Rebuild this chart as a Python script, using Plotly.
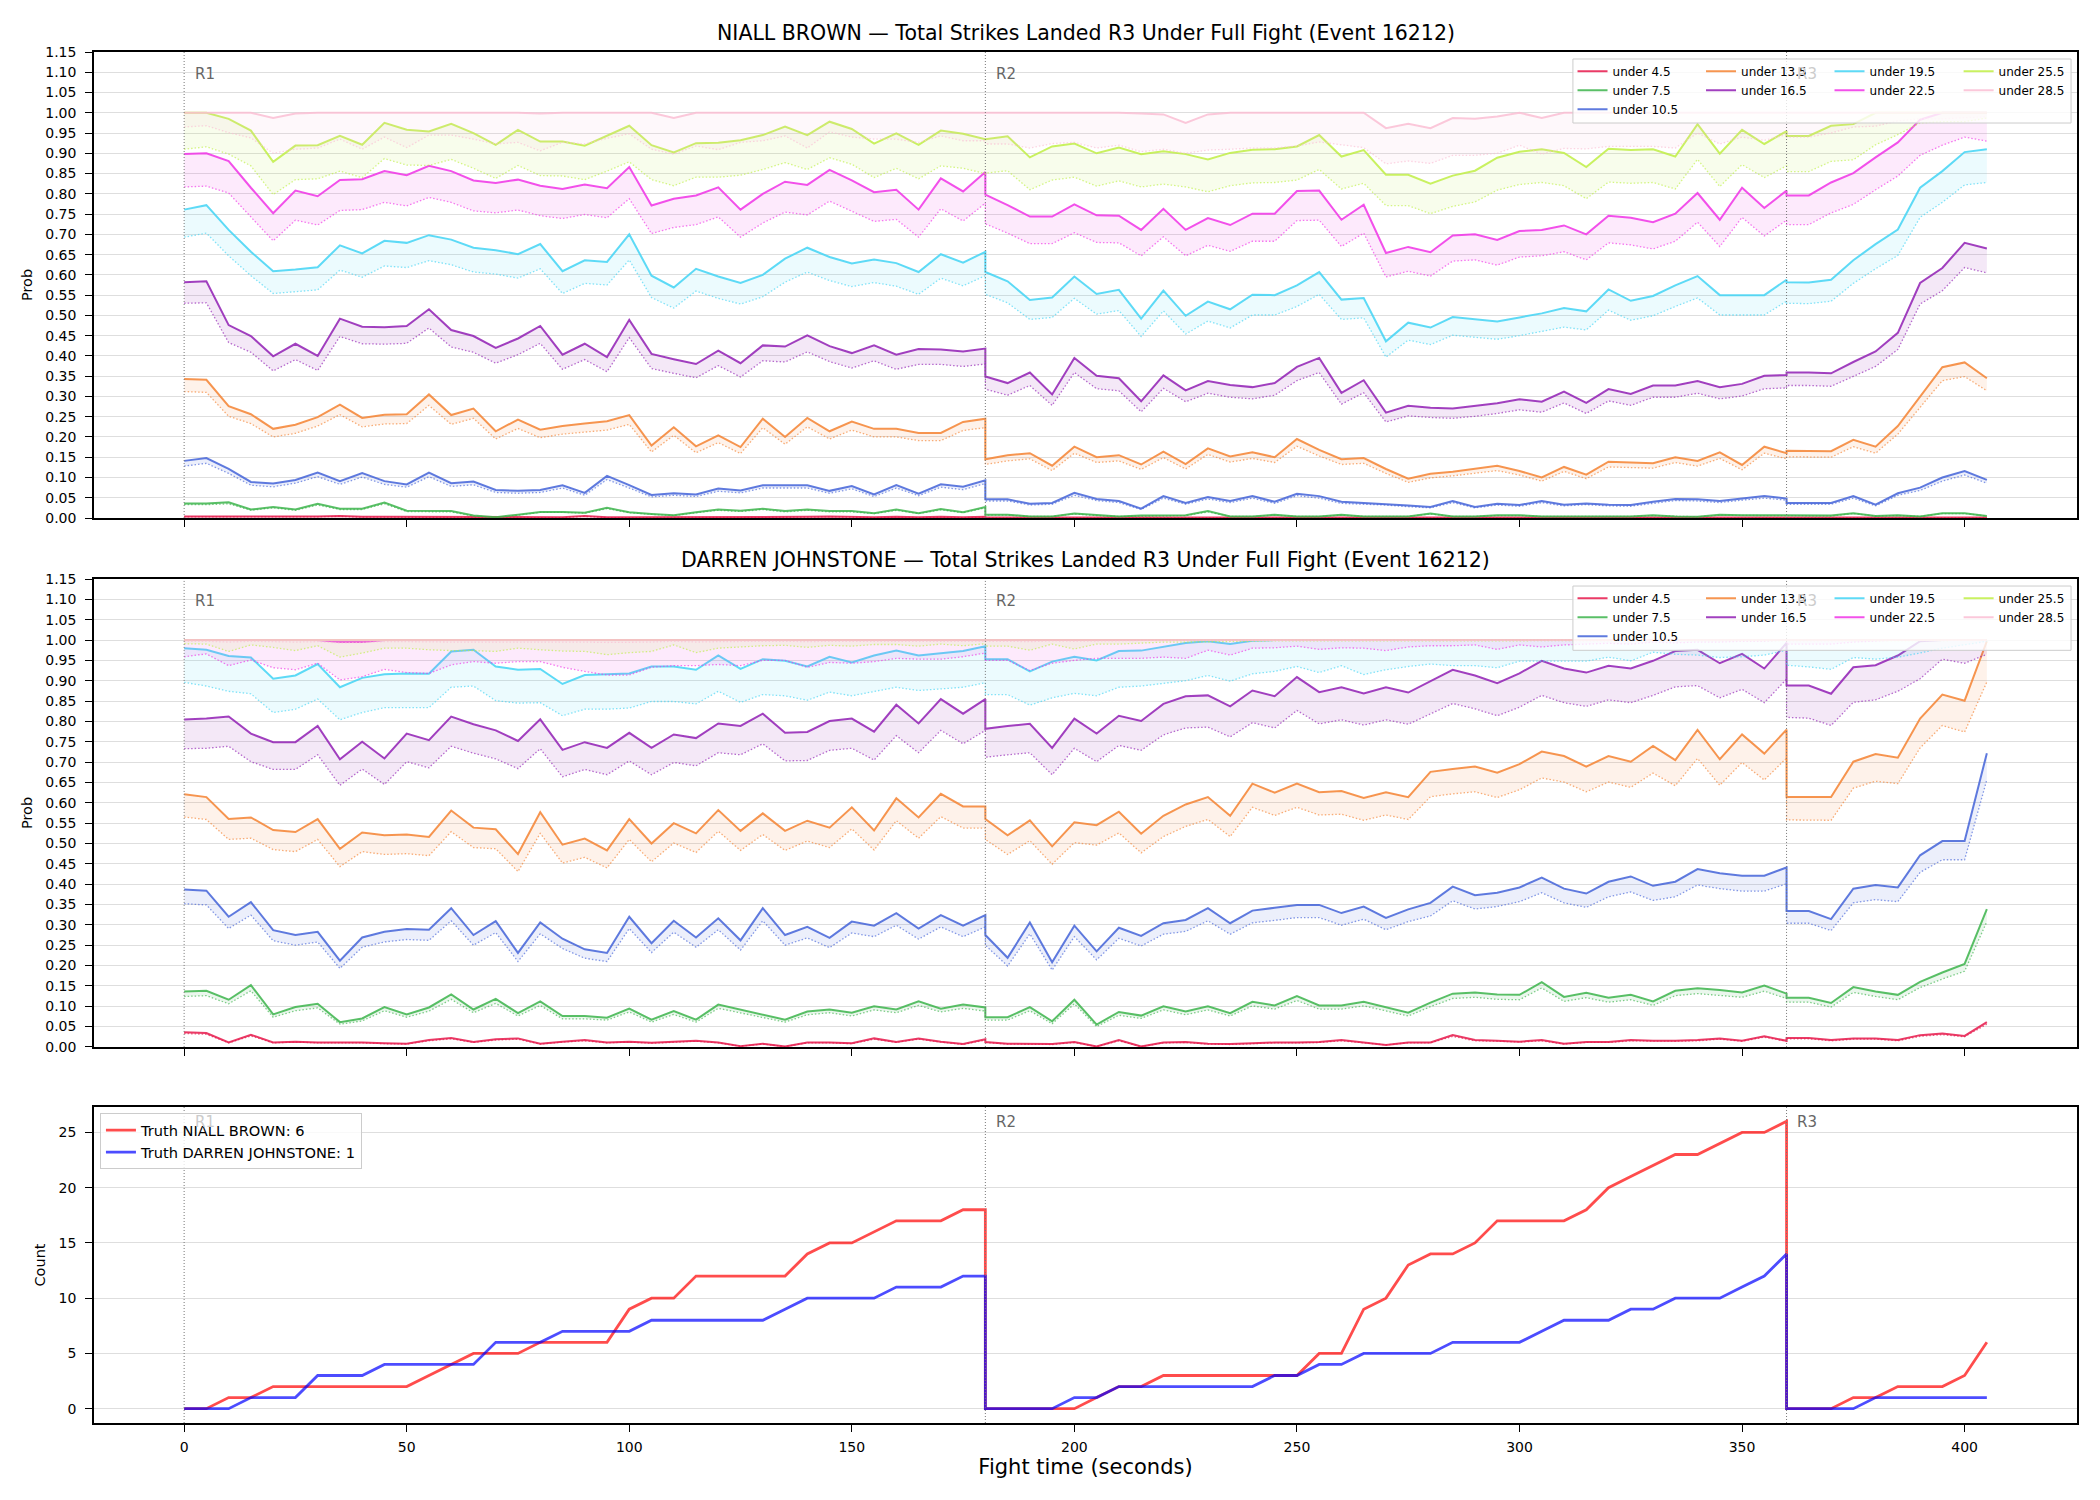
import sys
import plotly.graph_objects as go
from plotly.subplots import make_subplots

# ---------------- axes / categories ----------------
T = list(range(0, 181, 5)) + list(range(180, 361, 5)) + list(range(360, 406, 5))
ROUND_STARTS = [0, 180, 360]
ROUND_LABELS = ["R1", "R2", "R3"]
THRESHOLDS = ["under 4.5", "under 7.5", "under 10.5", "under 13.5", "under 16.5",
              "under 19.5", "under 22.5", "under 25.5", "under 28.5"]
COLORS = ["#e6194b", "#3cb44b", "#4363d8", "#f58231", "#911eb4",
          "#42d4f4", "#f032e6", "#bfef45", "#fabed4"]
PROB_TICKS = [0.00, 0.05, 0.10, 0.15, 0.20, 0.25, 0.30, 0.35, 0.40, 0.45, 0.50, 0.55,
              0.60, 0.65, 0.70, 0.75, 0.80, 0.85, 0.90, 0.95, 1.00, 1.05, 1.10, 1.15]
COUNT_TICKS = [0, 5, 10, 15, 20, 25]
X_TICKS = [0, 50, 100, 150, 200, 250, 300, 350, 400]
TITLE_NB = "NIALL BROWN — Total Strikes Landed R3 Under Full Fight (Event 16212)"
TITLE_DJ = "DARREN JOHNSTONE — Total Strikes Landed R3 Under Full Fight (Event 16212)"

# ---------------- NIALL BROWN (solid = hi, dotted = lo) ----------------
nb_u4_5 = [0.004,0.004,0.004,0.003,0.003,0.003,0.004,0.005,0.003,0.003,
           0.003,0.002,0.002,0.002,0.002,0.002,0.003,0.002,0.005,0.002,
           0.002,0.002,0.002,0.003,0.002,0.002,0.002,0.003,0.003,0.004,
           0.003,0.002,0.003,0.002,0.003,0.002,0.003] + \
          [0.001,0.001,0.001,0.001,0.002,0.001,0.001,0.001,0.001,0.001,
           0.002,0.001,0.001,0.001,0.001,0.001,0.002,0.001,0.001,0.001,
           0.001,0.001,0.001,0.001,0.001,0.001,0.001,0.001,0.001,0.001,
           0.001,0.001,0.001,0.001,0.001,0.001,0.001] + \
          [0.001,0.001,0.001,0.002,0.001,0.001,0.001,0.001,0.002,0.001]
nb_u4_5_lo = [0.003,0.003,0.003,0.002,0.002,0.002,0.003,0.004,0.002,0.002,
              0.002,0.001,0.001,0.001,0.001,0.001,0.002,0.001,0.004,0.001,
              0.001,0.001,0.001,0.002,0.001,0.001,0.001,0.002,0.002,0.003,
              0.002,0.001,0.002,0.001,0.002,0.001,0.002] + \
             [0.001,0.001,0.001,0.001,0.001,0.001,0.001,0.001,0.001,0.001,
              0.001,0.001,0.001,0.001,0.001,0.001,0.001,0.001,0.001,0.001,
              0.001,0.001,0.001,0.001,0.001,0.001,0.001,0.001,0.001,0.001,
              0.001,0.001,0.001,0.001,0.001,0.001,0.001] + \
             [0.001,0.001,0.001,0.001,0.001,0.001,0.001,0.001,0.001,0.001]

nb_u7_5 = [0.036,0.036,0.039,0.021,0.027,0.021,0.035,0.023,0.023,0.038,
           0.018,0.018,0.017,0.006,0.002,0.008,0.015,0.015,0.013,0.025,
           0.014,0.010,0.007,0.014,0.021,0.018,0.023,0.017,0.021,0.017,
           0.017,0.012,0.021,0.012,0.022,0.014,0.027] + \
          [0.008,0.008,0.004,0.004,0.011,0.007,0.004,0.006,0.007,0.007,
           0.017,0.004,0.004,0.008,0.004,0.004,0.008,0.004,0.004,0.004,
           0.011,0.004,0.004,0.007,0.007,0.004,0.004,0.004,0.004,0.004,
           0.007,0.004,0.003,0.008,0.007,0.007,0.007] + \
          [0.007,0.007,0.006,0.012,0.005,0.007,0.004,0.012,0.012,0.005]
nb_u7_5_lo = [0.033,0.033,0.035,0.019,0.025,0.019,0.032,0.021,0.021,0.035,
              0.016,0.016,0.015,0.005,0.002,0.007,0.014,0.014,0.012,0.023,
              0.013,0.009,0.006,0.013,0.019,0.016,0.021,0.015,0.019,0.015,
              0.015,0.011,0.019,0.011,0.020,0.013,0.025] + \
             [0.007,0.007,0.004,0.004,0.010,0.006,0.004,0.005,0.006,0.006,
              0.015,0.004,0.004,0.007,0.004,0.004,0.007,0.004,0.004,0.004,
              0.010,0.004,0.004,0.006,0.006,0.004,0.004,0.004,0.004,0.004,
              0.006,0.004,0.003,0.007,0.006,0.006,0.006] + \
             [0.006,0.006,0.005,0.011,0.005,0.006,0.004,0.011,0.011,0.005]

nb_u10_5 = [0.141,0.148,0.121,0.089,0.085,0.094,0.112,0.091,0.111,0.091,
            0.083,0.112,0.086,0.090,0.069,0.067,0.069,0.081,0.062,0.104,
            0.081,0.057,0.061,0.058,0.073,0.068,0.081,0.081,0.081,0.067,
            0.079,0.058,0.081,0.060,0.083,0.077,0.093] + \
           [0.046,0.046,0.035,0.037,0.062,0.047,0.042,0.023,0.054,0.037,
            0.052,0.042,0.054,0.040,0.060,0.054,0.040,0.037,0.035,0.031,
            0.027,0.042,0.027,0.035,0.032,0.042,0.033,0.036,0.033,0.032,
            0.040,0.047,0.046,0.042,0.048,0.054,0.048] + \
           [0.037,0.037,0.037,0.054,0.033,0.061,0.075,0.100,0.116,0.094]
nb_u10_5_lo = [0.128,0.135,0.110,0.081,0.077,0.086,0.102,0.083,0.101,0.083,
               0.076,0.102,0.078,0.082,0.063,0.061,0.063,0.074,0.056,0.095,
               0.074,0.052,0.056,0.053,0.066,0.062,0.074,0.074,0.074,0.061,
               0.072,0.053,0.074,0.055,0.076,0.070,0.085] + \
              [0.042,0.042,0.032,0.034,0.056,0.043,0.038,0.021,0.049,0.034,
               0.047,0.038,0.049,0.036,0.055,0.049,0.036,0.034,0.032,0.028,
               0.025,0.038,0.025,0.032,0.029,0.038,0.030,0.033,0.030,0.029,
               0.036,0.043,0.042,0.038,0.044,0.049,0.044] + \
              [0.034,0.034,0.034,0.049,0.030,0.056,0.068,0.091,0.106,0.086]

nb_u13_5 = [0.343,0.341,0.276,0.256,0.220,0.230,0.249,0.280,0.247,0.255,
            0.256,0.305,0.254,0.270,0.214,0.243,0.218,0.227,0.233,0.239,
            0.254,0.179,0.224,0.177,0.204,0.175,0.245,0.200,0.247,0.214,
            0.238,0.220,0.220,0.210,0.210,0.237,0.245] + \
           [0.145,0.155,0.160,0.129,0.176,0.150,0.155,0.132,0.164,0.133,
            0.172,0.152,0.162,0.150,0.195,0.168,0.145,0.148,0.121,0.097,
            0.109,0.114,0.121,0.129,0.116,0.100,0.126,0.107,0.139,0.137,
            0.135,0.150,0.141,0.162,0.131,0.176,0.160] + \
           [0.166,0.166,0.165,0.193,0.176,0.227,0.300,0.372,0.384,0.345]
nb_u13_5_lo = [0.312,0.310,0.251,0.233,0.200,0.209,0.227,0.255,0.225,0.232,
               0.233,0.278,0.231,0.246,0.195,0.221,0.198,0.207,0.212,0.217,
               0.231,0.163,0.204,0.161,0.186,0.159,0.223,0.182,0.225,0.195,
               0.217,0.200,0.200,0.191,0.191,0.216,0.223] + \
              [0.132,0.141,0.146,0.117,0.160,0.137,0.141,0.120,0.149,0.121,
               0.157,0.138,0.147,0.137,0.177,0.153,0.132,0.135,0.110,0.088,
               0.099,0.104,0.110,0.117,0.106,0.091,0.115,0.097,0.126,0.125,
               0.123,0.137,0.128,0.147,0.119,0.160,0.146] + \
              [0.151,0.151,0.150,0.176,0.160,0.207,0.273,0.339,0.349,0.314]

nb_u16_5 = [0.582,0.584,0.476,0.449,0.399,0.430,0.400,0.492,0.472,0.471,
            0.474,0.515,0.464,0.449,0.420,0.443,0.474,0.403,0.430,0.397,
            0.489,0.405,0.392,0.380,0.413,0.382,0.426,0.423,0.451,0.424,
            0.407,0.426,0.403,0.417,0.416,0.411,0.418] + \
           [0.349,0.333,0.359,0.305,0.395,0.351,0.345,0.288,0.352,0.315,
            0.338,0.328,0.323,0.333,0.373,0.395,0.309,0.340,0.260,0.277,
            0.272,0.270,0.276,0.283,0.293,0.287,0.312,0.284,0.318,0.306,
            0.327,0.327,0.338,0.323,0.331,0.351,0.353] + \
           [0.359,0.359,0.357,0.385,0.411,0.457,0.580,0.617,0.679,0.665]
nb_u16_5_lo = [0.530,0.531,0.433,0.409,0.363,0.391,0.364,0.448,0.430,0.429,
               0.431,0.469,0.422,0.409,0.382,0.403,0.431,0.367,0.391,0.361,
               0.445,0.369,0.357,0.346,0.376,0.348,0.388,0.385,0.410,0.386,
               0.370,0.388,0.367,0.379,0.379,0.374,0.380] + \
              [0.318,0.303,0.327,0.278,0.359,0.319,0.314,0.262,0.320,0.287,
               0.308,0.298,0.294,0.303,0.339,0.359,0.281,0.309,0.237,0.252,
               0.248,0.246,0.251,0.258,0.267,0.261,0.284,0.258,0.289,0.278,
               0.298,0.298,0.308,0.294,0.301,0.319,0.321] + \
              [0.327,0.327,0.325,0.350,0.374,0.416,0.528,0.561,0.618,0.605]

nb_u19_5 = [0.761,0.772,0.711,0.657,0.609,0.613,0.619,0.673,0.653,0.684,
            0.679,0.698,0.687,0.667,0.661,0.651,0.676,0.609,0.636,0.632,
            0.700,0.598,0.569,0.615,0.596,0.580,0.600,0.640,0.667,0.644,
            0.628,0.638,0.629,0.607,0.651,0.630,0.657] + \
           [0.607,0.584,0.538,0.544,0.596,0.553,0.563,0.492,0.561,0.499,
            0.534,0.515,0.551,0.550,0.574,0.607,0.539,0.543,0.436,0.482,
            0.470,0.496,0.490,0.485,0.495,0.505,0.518,0.510,0.564,0.536,
            0.548,0.574,0.597,0.550,0.550,0.550,0.588] + \
           [0.582,0.581,0.588,0.636,0.676,0.712,0.815,0.856,0.903,0.910]
nb_u19_5_lo = [0.693,0.703,0.647,0.598,0.554,0.558,0.563,0.612,0.594,0.622,
               0.618,0.635,0.625,0.607,0.602,0.592,0.615,0.554,0.579,0.575,
               0.637,0.544,0.518,0.560,0.542,0.528,0.546,0.582,0.607,0.586,
               0.571,0.581,0.572,0.552,0.592,0.573,0.598] + \
              [0.552,0.531,0.490,0.495,0.542,0.503,0.512,0.448,0.511,0.454,
               0.486,0.469,0.501,0.501,0.522,0.552,0.490,0.494,0.397,0.439,
               0.428,0.451,0.446,0.441,0.450,0.460,0.471,0.464,0.513,0.488,
               0.499,0.522,0.543,0.501,0.501,0.501,0.535] + \
              [0.530,0.529,0.535,0.579,0.615,0.648,0.742,0.779,0.822,0.828]

nb_u22_5 = [0.898,0.900,0.881,0.815,0.752,0.808,0.794,0.834,0.836,0.856,
            0.846,0.869,0.856,0.833,0.827,0.835,0.820,0.812,0.823,0.814,
            0.866,0.771,0.788,0.796,0.816,0.761,0.800,0.830,0.822,0.859,
            0.833,0.804,0.810,0.761,0.838,0.806,0.854] + \
           [0.798,0.772,0.744,0.744,0.774,0.747,0.746,0.711,0.763,0.711,
            0.740,0.723,0.751,0.751,0.807,0.808,0.736,0.773,0.654,0.669,
            0.656,0.697,0.700,0.686,0.708,0.711,0.722,0.700,0.746,0.741,
            0.730,0.751,0.802,0.736,0.815,0.765,0.808] + \
           [0.796,0.796,0.828,0.851,0.890,0.927,0.983,1.000,1.000,1.000]
nb_u22_5_lo = [0.817,0.819,0.802,0.742,0.684,0.735,0.723,0.759,0.761,0.779,
               0.770,0.791,0.779,0.758,0.753,0.760,0.746,0.739,0.749,0.741,
               0.788,0.702,0.717,0.724,0.743,0.693,0.728,0.755,0.748,0.782,
               0.758,0.732,0.737,0.693,0.763,0.733,0.777] + \
              [0.726,0.703,0.677,0.677,0.704,0.680,0.679,0.647,0.694,0.647,
               0.673,0.658,0.683,0.683,0.734,0.735,0.670,0.703,0.595,0.609,
               0.597,0.634,0.637,0.624,0.644,0.647,0.657,0.637,0.679,0.674,
               0.664,0.683,0.730,0.670,0.742,0.696,0.735] + \
              [0.724,0.724,0.753,0.774,0.810,0.844,0.895,0.920,0.940,0.930]

nb_u25_5 = [1.000,1.000,0.985,0.956,0.879,0.919,0.920,0.943,0.921,0.975,
            0.958,0.954,0.973,0.950,0.921,0.958,0.929,0.929,0.919,0.943,
            0.968,0.920,0.902,0.925,0.926,0.932,0.945,0.966,0.945,0.978,
            0.960,0.924,0.949,0.921,0.956,0.948,0.935] + \
           [0.935,0.942,0.890,0.917,0.924,0.900,0.914,0.898,0.905,0.898,
            0.885,0.901,0.909,0.910,0.917,0.945,0.892,0.908,0.847,0.847,
            0.825,0.845,0.857,0.889,0.904,0.910,0.901,0.866,0.911,0.908,
            0.910,0.892,0.972,0.899,0.958,0.923,0.955] + \
           [0.943,0.943,0.968,0.972,1.000,1.000,1.000,1.000,1.000,1.000]
nb_u25_5_lo = [0.910,0.916,0.898,0.869,0.798,0.835,0.837,0.856,0.840,0.887,
               0.871,0.870,0.885,0.863,0.838,0.870,0.845,0.844,0.835,0.856,
               0.879,0.835,0.820,0.841,0.841,0.846,0.860,0.877,0.860,0.889,
               0.873,0.840,0.863,0.837,0.869,0.863,0.850] + \
              [0.851,0.857,0.810,0.834,0.841,0.819,0.832,0.817,0.824,0.817,
               0.805,0.820,0.827,0.828,0.834,0.860,0.812,0.826,0.771,0.771,
               0.751,0.769,0.780,0.809,0.823,0.828,0.820,0.788,0.829,0.826,
               0.828,0.812,0.885,0.818,0.872,0.840,0.869] + \
              [0.855,0.855,0.880,0.884,0.921,0.946,0.975,0.978,0.978,0.987]

nb_u28_5 = [1.000,1.000,1.000,1.000,0.987,0.998,1.000,1.000,1.000,1.000,
            1.000,1.000,1.000,1.000,1.000,1.000,0.998,1.000,1.000,1.000,
            1.000,1.000,0.987,1.000,1.000,1.000,1.000,1.000,1.000,1.000,
            1.000,1.000,1.000,1.000,1.000,1.000,1.000] + \
           [1.000,1.000,1.000,1.000,1.000,1.000,1.000,0.998,0.996,0.975,
            0.996,1.000,1.000,1.000,1.000,1.000,1.000,1.000,0.962,0.973,
            0.962,0.987,0.985,0.991,1.000,0.987,1.000,1.000,1.000,1.000,
            1.000,1.000,1.000,1.000,1.000,1.000,1.000] + \
           [1.000,1.000,1.000,1.000,1.000,1.000,1.000,1.000,1.000,1.000]
nb_u28_5_lo = [0.965,0.968,0.951,0.938,0.900,0.910,0.913,0.935,0.910,0.940,
               0.914,0.945,0.945,0.935,0.923,0.927,0.906,0.927,0.923,0.937,
               0.948,0.910,0.898,0.918,0.909,0.927,0.931,0.943,0.913,0.953,
               0.940,0.935,0.935,0.927,0.943,0.931,0.931] + \
              [0.923,0.923,0.913,0.924,0.927,0.913,0.920,0.904,0.910,0.900,
               0.908,0.910,0.913,0.913,0.918,0.928,0.921,0.914,0.874,0.881,
               0.875,0.895,0.895,0.900,0.920,0.898,0.912,0.911,0.917,0.917,
               0.917,0.913,0.950,0.923,0.940,0.932,0.946] + \
              [0.940,0.940,0.950,0.965,0.967,0.980,0.985,0.985,0.988,0.990]

# ---------------- DARREN JOHNSTONE ----------------
dj_u4_5 = [0.036,0.034,0.011,0.030,0.011,0.013,0.011,0.011,0.011,0.009,
           0.008,0.017,0.022,0.012,0.019,0.021,0.008,0.013,0.017,0.011,
           0.013,0.010,0.012,0.015,0.011,0.002,0.008,0.001,0.011,0.011,
           0.009,0.021,0.012,0.021,0.013,0.007,0.019] + \
          [0.012,0.008,0.008,0.007,0.012,0.001,0.017,0.001,0.011,0.012,
           0.008,0.007,0.009,0.011,0.011,0.012,0.017,0.011,0.005,0.011,
           0.011,0.029,0.017,0.015,0.013,0.017,0.008,0.012,0.012,0.017,
           0.015,0.015,0.017,0.021,0.015,0.026,0.015] + \
          [0.022,0.022,0.017,0.021,0.021,0.017,0.029,0.033,0.027,0.061]
dj_u4_5_lo = [0.033,0.031,0.010,0.027,0.010,0.012,0.010,0.010,0.010,0.008,
              0.007,0.015,0.020,0.011,0.017,0.019,0.007,0.012,0.015,0.010,
              0.012,0.009,0.011,0.014,0.010,0.002,0.007,0.001,0.010,0.010,
              0.008,0.019,0.011,0.019,0.012,0.006,0.017] + \
             [0.011,0.007,0.007,0.006,0.011,0.001,0.015,0.001,0.010,0.011,
              0.007,0.006,0.008,0.010,0.010,0.011,0.015,0.010,0.005,0.010,
              0.010,0.026,0.015,0.014,0.012,0.015,0.007,0.011,0.011,0.015,
              0.014,0.014,0.015,0.019,0.014,0.024,0.014] + \
             [0.020,0.020,0.015,0.019,0.019,0.015,0.026,0.030,0.025,0.056]

dj_u7_5 = [0.136,0.138,0.116,0.152,0.080,0.098,0.106,0.061,0.070,0.098,
           0.080,0.097,0.129,0.092,0.118,0.083,0.112,0.076,0.076,0.072,
           0.094,0.067,0.088,0.067,0.104,0.092,0.080,0.067,0.087,0.092,
           0.084,0.100,0.092,0.112,0.094,0.104,0.097] + \
          [0.073,0.073,0.098,0.063,0.116,0.055,0.086,0.077,0.100,0.087,
           0.100,0.083,0.111,0.102,0.125,0.102,0.102,0.111,0.098,0.084,
           0.109,0.131,0.134,0.129,0.128,0.159,0.123,0.133,0.121,0.128,
           0.112,0.138,0.144,0.140,0.134,0.151,0.131] + \
          [0.121,0.121,0.108,0.147,0.136,0.128,0.160,0.183,0.204,0.339]
dj_u7_5_lo = [0.124,0.126,0.106,0.138,0.073,0.089,0.096,0.056,0.064,0.089,
              0.073,0.088,0.117,0.084,0.107,0.076,0.102,0.069,0.069,0.066,
              0.086,0.061,0.080,0.061,0.095,0.084,0.073,0.061,0.079,0.084,
              0.076,0.091,0.084,0.102,0.086,0.095,0.088] + \
             [0.066,0.066,0.089,0.057,0.106,0.050,0.078,0.070,0.091,0.079,
              0.091,0.076,0.101,0.093,0.114,0.093,0.093,0.101,0.089,0.076,
              0.099,0.119,0.122,0.117,0.116,0.145,0.112,0.121,0.110,0.116,
              0.102,0.126,0.131,0.127,0.122,0.137,0.119] + \
             [0.110,0.110,0.098,0.134,0.124,0.116,0.146,0.167,0.186,0.308]

dj_u10_5 = [0.387,0.384,0.320,0.356,0.287,0.275,0.283,0.212,0.269,0.283,
            0.290,0.288,0.341,0.275,0.309,0.231,0.306,0.266,0.240,0.231,
            0.320,0.255,0.310,0.269,0.316,0.262,0.341,0.275,0.295,0.268,
            0.308,0.298,0.329,0.291,0.324,0.298,0.324] + \
           [0.275,0.219,0.306,0.208,0.298,0.235,0.293,0.273,0.304,0.312,
            0.341,0.304,0.335,0.342,0.349,0.349,0.329,0.345,0.317,0.338,
            0.354,0.394,0.373,0.379,0.392,0.416,0.389,0.377,0.406,0.419,
            0.396,0.406,0.437,0.427,0.421,0.421,0.441] + \
           [0.334,0.334,0.314,0.389,0.398,0.392,0.471,0.506,0.506,0.722]
dj_u10_5_lo = [0.352,0.349,0.291,0.324,0.261,0.250,0.258,0.193,0.245,0.258,
               0.264,0.262,0.310,0.250,0.281,0.210,0.278,0.242,0.218,0.210,
               0.291,0.232,0.282,0.245,0.288,0.238,0.310,0.250,0.268,0.244,
               0.280,0.271,0.299,0.265,0.295,0.271,0.295] + \
              [0.250,0.199,0.278,0.189,0.271,0.214,0.267,0.248,0.277,0.284,
               0.310,0.277,0.305,0.311,0.318,0.318,0.299,0.314,0.288,0.308,
               0.322,0.359,0.339,0.345,0.357,0.379,0.354,0.343,0.369,0.381,
               0.360,0.369,0.398,0.389,0.383,0.383,0.401] + \
              [0.304,0.304,0.286,0.354,0.362,0.357,0.429,0.460,0.460,0.657]

dj_u13_5 = [0.621,0.614,0.560,0.564,0.533,0.528,0.560,0.487,0.527,0.520,
            0.522,0.516,0.581,0.539,0.535,0.474,0.577,0.497,0.512,0.483,
            0.560,0.500,0.550,0.525,0.582,0.531,0.574,0.531,0.556,0.539,
            0.589,0.532,0.611,0.564,0.622,0.591,0.591] + \
           [0.560,0.520,0.557,0.493,0.552,0.545,0.578,0.524,0.568,0.596,
            0.614,0.568,0.647,0.625,0.647,0.626,0.629,0.612,0.626,0.614,
            0.676,0.683,0.689,0.674,0.695,0.726,0.715,0.689,0.715,0.701,
            0.740,0.705,0.779,0.707,0.768,0.721,0.780] + \
           [0.614,0.614,0.614,0.701,0.720,0.711,0.807,0.866,0.851,0.997]
dj_u13_5_lo = [0.565,0.559,0.510,0.513,0.485,0.480,0.510,0.443,0.480,0.473,
               0.475,0.470,0.529,0.490,0.487,0.431,0.525,0.452,0.466,0.440,
               0.510,0.455,0.501,0.478,0.530,0.483,0.522,0.483,0.506,0.490,
               0.536,0.484,0.556,0.513,0.566,0.538,0.538] + \
              [0.510,0.473,0.507,0.449,0.502,0.496,0.526,0.477,0.517,0.542,
               0.559,0.517,0.589,0.569,0.589,0.570,0.572,0.557,0.570,0.559,
               0.615,0.622,0.627,0.613,0.632,0.661,0.651,0.627,0.651,0.638,
               0.673,0.642,0.709,0.643,0.699,0.656,0.710] + \
              [0.558,0.557,0.557,0.636,0.653,0.647,0.735,0.790,0.774,0.897]

dj_u16_5 = [0.805,0.807,0.812,0.770,0.749,0.749,0.789,0.707,0.750,0.709,
            0.770,0.754,0.812,0.793,0.778,0.752,0.805,0.730,0.749,0.735,
            0.772,0.735,0.768,0.759,0.795,0.789,0.819,0.772,0.774,0.801,
            0.807,0.775,0.841,0.795,0.855,0.819,0.855] + \
           [0.782,0.789,0.794,0.735,0.807,0.770,0.814,0.801,0.843,0.862,
            0.864,0.837,0.876,0.862,0.909,0.872,0.884,0.869,0.884,0.871,
            0.899,0.927,0.913,0.894,0.918,0.949,0.930,0.920,0.937,0.930,
            0.949,0.973,0.976,0.943,0.966,0.930,0.993] + \
           [0.888,0.888,0.868,0.933,0.938,0.962,0.997,1.000,1.000,1.000]
dj_u16_5_lo = [0.733,0.734,0.739,0.701,0.682,0.682,0.718,0.643,0.683,0.645,
               0.701,0.686,0.739,0.722,0.708,0.684,0.733,0.664,0.682,0.669,
               0.703,0.669,0.699,0.691,0.723,0.718,0.745,0.703,0.704,0.729,
               0.734,0.705,0.765,0.723,0.778,0.745,0.778] + \
              [0.712,0.718,0.723,0.669,0.734,0.701,0.741,0.729,0.767,0.784,
               0.786,0.762,0.797,0.784,0.827,0.794,0.804,0.791,0.804,0.793,
               0.818,0.844,0.831,0.814,0.835,0.864,0.846,0.837,0.853,0.846,
               0.864,0.885,0.888,0.858,0.879,0.846,0.904] + \
              [0.810,0.808,0.790,0.847,0.853,0.874,0.905,0.953,0.943,0.965]

dj_u19_5 = [0.980,0.976,0.961,0.957,0.905,0.913,0.941,0.884,0.907,0.916,
            0.918,0.917,0.972,0.976,0.935,0.927,0.929,0.892,0.914,0.916,
            0.918,0.935,0.935,0.927,0.962,0.929,0.953,0.949,0.935,0.959,
            0.945,0.962,0.974,0.962,0.968,0.973,0.985] + \
           [0.953,0.953,0.923,0.947,0.959,0.950,0.973,0.974,0.984,0.993,
            0.997,0.990,0.998,1.000,1.000,1.000,1.000,1.000,1.000,1.000,
            1.000,1.000,1.000,1.000,1.000,1.000,1.000,1.000,1.000,1.000,
            1.000,1.000,1.000,1.000,1.000,1.000,1.000] + \
           [1.000,1.000,1.000,1.000,1.000,1.000,1.000,1.000,1.000,1.000]
dj_u19_5_lo = [0.896,0.887,0.874,0.868,0.822,0.830,0.855,0.804,0.822,0.834,
               0.834,0.834,0.884,0.887,0.851,0.845,0.846,0.814,0.830,0.830,
               0.833,0.849,0.849,0.843,0.874,0.847,0.866,0.863,0.852,0.872,
               0.863,0.874,0.884,0.876,0.880,0.884,0.895] + \
              [0.866,0.866,0.840,0.858,0.869,0.863,0.884,0.887,0.893,0.900,
               0.913,0.899,0.917,0.923,0.935,0.920,0.937,0.915,0.927,0.935,
               0.941,0.937,0.937,0.932,0.948,0.948,0.948,0.948,0.958,0.949,
               0.970,0.965,0.963,0.957,0.959,0.963,0.975] + \
              [0.938,0.934,0.928,0.957,0.953,0.958,0.968,0.980,0.988,0.997]

dj_u22_5 = [1.000,1.000,1.000,1.000,1.000,1.000,1.000,0.995,0.995,1.000,
            1.000,1.000,1.000,1.000,1.000,1.000,1.000,1.000,1.000,1.000,
            1.000,1.000,1.000,1.000,1.000,1.000,1.000,1.000,1.000,1.000,
            1.000,1.000,1.000,1.000,1.000,1.000,1.000] + \
           [1.000,1.000,1.000,1.000,1.000,1.000,1.000,1.000,1.000,1.000,
            1.000,1.000,1.000,1.000,1.000,1.000,1.000,1.000,1.000,1.000,
            1.000,1.000,1.000,1.000,1.000,1.000,1.000,1.000,1.000,1.000,
            1.000,1.000,1.000,1.000,1.000,1.000,1.000] + \
           [1.000,1.000,1.000,1.000,1.000,1.000,1.000,1.000,1.000,1.000]
dj_u22_5_lo = [0.959,0.966,0.937,0.951,0.932,0.927,0.943,0.902,0.910,0.928,
               0.920,0.918,0.939,0.947,0.943,0.947,0.947,0.933,0.923,0.914,
               0.914,0.933,0.937,0.937,0.940,0.937,0.950,0.950,0.933,0.945,
               0.943,0.947,0.955,0.953,0.953,0.959,0.968] + \
              [0.950,0.950,0.925,0.943,0.950,0.955,0.955,0.955,0.958,0.955,
               0.975,0.963,0.980,0.981,0.985,0.977,0.981,0.980,0.974,0.983,
               0.986,0.986,0.988,0.977,0.988,0.983,0.988,0.990,0.992,0.990,
               0.995,0.993,0.995,0.995,0.997,0.997,1.000] + \
              [0.990,0.990,0.990,0.995,0.998,1.000,1.000,1.000,1.000,1.000]

dj_u25_5 = [1.000,1.000,1.000,1.000,1.000,1.000,1.000,1.000,1.000,1.000,
            1.000,1.000,1.000,1.000,1.000,1.000,1.000,1.000,1.000,1.000,
            1.000,1.000,1.000,1.000,1.000,1.000,1.000,1.000,1.000,1.000,
            1.000,1.000,1.000,1.000,1.000,1.000,1.000] + \
           [1.000,1.000,1.000,1.000,1.000,1.000,1.000,1.000,1.000,1.000,
            1.000,1.000,1.000,1.000,1.000,1.000,1.000,1.000,1.000,1.000,
            1.000,1.000,1.000,1.000,1.000,1.000,1.000,1.000,1.000,1.000,
            1.000,1.000,1.000,1.000,1.000,1.000,1.000] + \
           [1.000,1.000,1.000,1.000,1.000,1.000,1.000,1.000,1.000,1.000]
dj_u25_5_lo = [0.991,0.990,0.972,0.988,0.982,0.974,0.986,0.958,0.968,0.980,
               0.980,0.976,0.974,0.974,0.972,0.980,0.976,0.973,0.972,0.964,
               0.969,0.972,0.988,0.969,0.980,0.983,0.986,0.987,0.982,0.987,
               0.985,0.989,0.989,0.985,0.990,0.986,0.991] + \
              [0.985,0.985,0.975,0.990,0.978,0.990,0.990,0.993,0.995,0.995,
               0.996,0.997,0.997,0.998,0.998,0.998,0.998,0.998,0.998,0.998,
               0.998,0.998,0.998,0.998,0.999,0.999,0.999,0.999,0.999,0.999,
               0.999,0.999,0.999,0.999,0.999,0.999,0.999] + \
              [0.998,0.998,0.998,0.999,0.999,0.999,0.999,0.999,0.999,0.999]

dj_u28_5 = [1.000,1.000,1.000,1.000,1.000,1.000,1.000,1.000,1.000,1.000,
            1.000,1.000,1.000,1.000,1.000,1.000,1.000,1.000,1.000,1.000,
            1.000,1.000,1.000,1.000,1.000,1.000,1.000,1.000,1.000,1.000,
            1.000,1.000,1.000,1.000,1.000,1.000,1.000] + \
           [1.000,1.000,1.000,1.000,1.000,1.000,1.000,1.000,1.000,1.000,
            1.000,1.000,1.000,1.000,1.000,1.000,1.000,1.000,1.000,1.000,
            1.000,1.000,1.000,1.000,1.000,1.000,1.000,1.000,1.000,1.000,
            1.000,1.000,1.000,1.000,1.000,1.000,1.000] + \
           [1.000,1.000,1.000,1.000,1.000,1.000,1.000,1.000,1.000,1.000]
dj_u28_5_lo = [0.997,0.997,0.995,0.997,0.996,0.995,0.996,0.993,0.994,0.996,
               0.996,0.995,0.995,0.995,0.995,0.996,0.995,0.995,0.995,0.994,
               0.994,0.995,0.997,0.995,0.996,0.997,0.997,0.997,0.996,0.997,
               0.997,0.998,0.998,0.997,0.998,0.997,0.998] + \
              [0.997,0.997,0.996,0.998,0.997,0.998,0.998,0.999,0.999,0.999,
               0.999,0.999,0.999,1.000,1.000,1.000,1.000,1.000,1.000,1.000,
               1.000,1.000,1.000,1.000,1.000,1.000,1.000,1.000,1.000,1.000,
               1.000,1.000,1.000,1.000,1.000,1.000,1.000] + \
              [1.000,1.000,1.000,1.000,1.000,1.000,1.000,1.000,1.000,1.000]

# ---------------- truth counts ----------------
truth_nb = [0,0,1,1,2,2,2,2,2,2, 2,3,4,5,5,5,6,6,6,6, 9,10,10,12,12,12,12,12,14,15,
            15,16,17,17,17,18,18] + \
           [0,0,0,0,0,1,2,2,3,3, 3,3,3,3,3,5,5,9,10,13, 14,14,15,17,17,17,17,18,20,21,
            22,23,23,24,25,25,26] + \
           [0,0,0,1,1,2,2,2,3,6]
truth_dj = [0,0,0,1,1,1,3,3,3,4, 4,4,4,4,6,6,6,7,7,7, 7,8,8,8,8,8,8,9,10,10,
            10,10,11,11,11,12,12] + \
           [0,0,0,0,1,1,2,2,2,2, 2,2,2,3,3,4,4,5,5,5, 5,6,6,6,6,7,8,8,8,9,
            9,10,10,10,11,12,14] + \
           [0,0,0,0,1,1,1,1,1,1]

NB_HI = [nb_u4_5, nb_u7_5, nb_u10_5, nb_u13_5, nb_u16_5, nb_u19_5, nb_u22_5, nb_u25_5, nb_u28_5]
NB_LO = [nb_u4_5_lo, nb_u7_5_lo, nb_u10_5_lo, nb_u13_5_lo, nb_u16_5_lo, nb_u19_5_lo,
         nb_u22_5_lo, nb_u25_5_lo, nb_u28_5_lo]
DJ_HI = [dj_u4_5, dj_u7_5, dj_u10_5, dj_u13_5, dj_u16_5, dj_u19_5, dj_u22_5, dj_u25_5, dj_u28_5]
DJ_LO = [dj_u4_5_lo, dj_u7_5_lo, dj_u10_5_lo, dj_u13_5_lo, dj_u16_5_lo, dj_u19_5_lo,
         dj_u22_5_lo, dj_u25_5_lo, dj_u28_5_lo]

for arr in NB_HI + NB_LO + DJ_HI + DJ_LO + [truth_nb, truth_dj]:
    if len(arr) != len(T):
        print("length mismatch", len(arr), file=sys.stderr)

# ---------------- styling ----------------
FONT = "DejaVu Sans"
LEGEND_COL = [0, 0, 0, 1, 1, 2, 2, 3, 3]   # matplotlib ncol=4 column of each entry


def rgba(h, a):
    h = h.lstrip("#")
    return "rgba(%d,%d,%d,%s)" % (int(h[0:2], 16), int(h[2:4], 16), int(h[4:6], 16), a)


fig = make_subplots(rows=3, cols=1, shared_xaxes=True)

panels = [
    (1, NB_HI, NB_LO, ["legend", "legend2", "legend3", "legend4"]),
    (2, DJ_HI, DJ_LO, ["legend5", "legend6", "legend7", "legend8"]),
]
for row, highs, lows, legs in panels:
    for k in range(len(THRESHOLDS)):
        c = COLORS[k]
        fig.add_trace(go.Scatter(x=T, y=lows[k], mode="lines",
                                 line=dict(color=rgba(c, 0.65), width=1.3, dash="1.5px,2px"),
                                 showlegend=False, hoverinfo="skip"), row=row, col=1)
        fig.add_trace(go.Scatter(x=T, y=highs[k], mode="lines",
                                 line=dict(color="rgba(0,0,0,0)", width=0),
                                 fill="tonexty", fillcolor=rgba(c, 0.1),
                                 showlegend=False, hoverinfo="skip"), row=row, col=1)
        fig.add_trace(go.Scatter(x=T, y=highs[k], mode="lines",
                                 line=dict(color=rgba(c, 0.85), width=2),
                                 name=THRESHOLDS[k], legend=legs[LEGEND_COL[k]]),
                      row=row, col=1)

fig.add_trace(go.Scatter(x=T, y=truth_nb, mode="lines", name="Truth NIALL BROWN: 6",
                         line=dict(color="rgba(255,0,0,0.7)", width=2.8), legend="legend9"),
              row=3, col=1)
fig.add_trace(go.Scatter(x=T, y=truth_dj, mode="lines", name="Truth DARREN JOHNSTONE: 1",
                         line=dict(color="rgba(0,0,255,0.7)", width=2.8), legend="legend9"),
              row=3, col=1)

# ---------------- layout ----------------
layout = dict(
    width=2100, height=1500,
    margin=dict(l=94, r=23, t=52, b=77),
    plot_bgcolor="white", paper_bgcolor="white",
    font=dict(family=FONT, size=14, color="black"),
    hovermode=False,
)

xcommon = dict(range=[-20.25, 425.25], tickvals=X_TICKS, ticks="outside", ticklen=7,
               tickwidth=1.2, tickcolor="black", showline=True, linecolor="black",
               linewidth=1.5, mirror=True, showgrid=False, zeroline=False,
               tickfont=dict(size=14, family=FONT), ticklabelstandoff=3)
layout["xaxis"] = dict(xcommon, showticklabels=False)
layout["xaxis2"] = dict(xcommon, showticklabels=False)
layout["xaxis3"] = dict(xcommon, showticklabels=True,
                        title=dict(text="Fight time (seconds)", font=dict(size=21, family=FONT),
                                   standoff=5))

ycommon = dict(ticks="outside", ticklen=7, tickwidth=1.2, tickcolor="black", showline=True,
               linecolor="black", linewidth=1.5, mirror=True, showgrid=True,
               gridcolor="#dedede", gridwidth=1, zeroline=False,
               tickfont=dict(size=14, family=FONT), ticklabelstandoff=6, automargin=False)
layout["yaxis"] = dict(ycommon, domain=[0.6601, 1.0], range=[0, 1.15], tickvals=PROB_TICKS,
                       tickformat=".2f",
                       title=dict(text="Prob", font=dict(size=14.5, family=FONT), standoff=9))
layout["yaxis2"] = dict(ycommon, domain=[0.2743, 0.6156], range=[0, 1.15], tickvals=PROB_TICKS,
                        tickformat=".2f",
                        title=dict(text="Prob", font=dict(size=14.5, family=FONT), standoff=9))
layout["yaxis3"] = dict(ycommon, domain=[0.0, 0.2305], range=[-1.3, 27.3], tickvals=COUNT_TICKS,
                        title=dict(text="Count", font=dict(size=14.5, family=FONT), standoff=10))

legcommon = dict(orientation="v", bgcolor="rgba(0,0,0,0)", borderwidth=0,
                 font=dict(family=FONT, size=12, color="black"), tracegroupgap=0,
                 itemwidth=30, xanchor="left", yanchor="top", traceorder="normal")
COL_X = [0.7456, 0.8104, 0.8752, 0.9403]
for i, name in enumerate(["legend", "legend2", "legend3", "legend4"]):
    layout[name] = dict(legcommon, x=COL_X[i], y=0.9965)
for i, name in enumerate(["legend5", "legend6", "legend7", "legend8"]):
    layout[name] = dict(legcommon, x=COL_X[i], y=0.6122)
layout["legend9"] = dict(orientation="v", bgcolor="rgba(255,255,255,0.8)", bordercolor="#cccccc",
                         borderwidth=1, font=dict(family=FONT, size=14.6, color="black"),
                         itemwidth=30, xanchor="left", yanchor="top", x=0.003, y=0.226,
                         tracegroupgap=0)

shapes = []
for xr, yr in [("x", "y"), ("x2", "y2"), ("x3", "y3")]:
    for b in ROUND_STARTS:
        shapes.append(dict(type="line", xref=xr, yref=yr + " domain", x0=b, x1=b, y0=0, y1=1,
                           line=dict(color="#777777", width=1, dash="1px,2px"), layer="above"))
for xr, yr in [("x", "y"), ("x2", "y2")]:
    shapes.append(dict(type="rect", xref=xr + " domain", yref=yr + " domain",
                       x0=0.7458, x1=0.997, y0=0.8476, y1=0.985,
                       fillcolor="rgba(255,255,255,0.8)", line=dict(color="#cccccc", width=1),
                       layer="above"))
layout["shapes"] = shapes

annotations = []
for xr, yr, title in [("x", "y", TITLE_NB), ("x2", "y2", TITLE_DJ)]:
    annotations.append(dict(text=title, xref=xr + " domain", yref=yr + " domain", x=0.5, y=1,
                            xanchor="center", yanchor="bottom", yshift=5, showarrow=False,
                            font=dict(size=20.5, family=FONT, color="black")))
faint = {("y", "R3"), ("y2", "R3"), ("y3", "R1")}
for xr, yr in [("x", "y"), ("x2", "y2"), ("x3", "y3")]:
    for b, lab in zip(ROUND_STARTS, ROUND_LABELS):
        col = "#cccccc" if (yr, lab) in faint else "#666666"
        annotations.append(dict(text=lab, xref=xr, yref=yr + " domain", x=b + 2, y=0.952,
                                xanchor="left", yanchor="middle", showarrow=False,
                                font=dict(size=15, family=FONT, color=col)))
layout["annotations"] = annotations

fig.update_layout(**layout)
fig.write_html("out.html")
